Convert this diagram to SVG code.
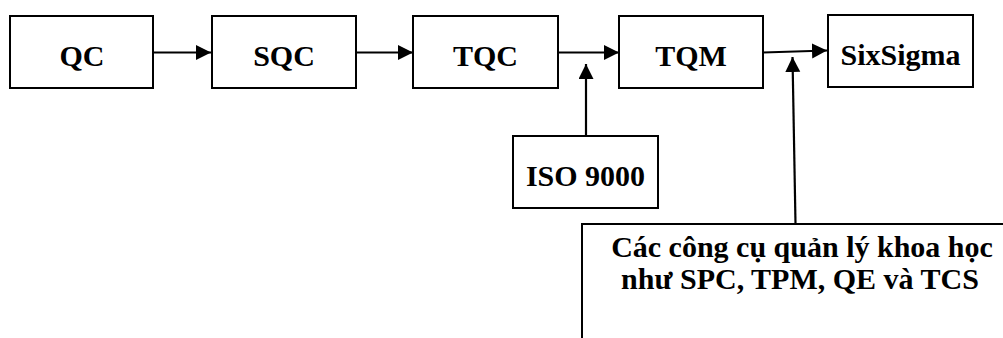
<svg xmlns="http://www.w3.org/2000/svg" width="1003" height="338" viewBox="0 0 1003 338">
  <defs>
    <marker id="head" markerUnits="userSpaceOnUse" markerWidth="16" markerHeight="16" refX="15" refY="7.5" orient="auto">
      <path d="M0,0 L15,7.5 L0,15 z" fill="#000"/>
    </marker>
  </defs>
  <rect width="1003" height="338" fill="#fff"/>

  <!-- arrows between the stages -->
  <g id="connectors" stroke="#000" stroke-width="2.2" fill="none" marker-end="url(#head)">
    <line x1="153" y1="52.5" x2="211" y2="52.5"/>
    <line x1="356" y1="52.5" x2="413" y2="52.5"/>
    <line x1="558" y1="52.5" x2="619" y2="52.5"/>
    <line x1="763" y1="52.5" x2="827" y2="50.5"/>
    <line x1="586" y1="136" x2="586" y2="64"/>
    <line x1="795.5" y1="224" x2="792.5" y2="57"/>
  </g>

  <!-- stage boxes -->
  <g id="nodes" fill="#fff" stroke="#000" stroke-width="2">
    <rect id="node-qc-box" x="10" y="16" width="143" height="72"/>
    <rect id="node-sqc-box" x="212" y="16" width="144" height="72"/>
    <rect id="node-tqc-box" x="413" y="16" width="145" height="72"/>
    <rect id="node-tqm-box" x="619" y="16" width="144" height="72"/>
    <rect id="node-sixsigma-box" x="828" y="15" width="145" height="72"/>
    <rect id="node-iso-box" x="513" y="136" width="145" height="72"/>
    <rect id="node-tools-box" x="582" y="224" width="500" height="200"/>
  </g>

  <g id="labels" font-family="Liberation Serif" font-weight="bold" font-size="30" text-anchor="middle" fill="#000">
    <text id="node-qc" x="82" y="66" style="font-family:'Liberation Serif',serif;font-weight:700">QC</text>
    <text id="node-sqc" x="284" y="66" style="font-family:'Liberation Serif',serif;font-weight:700">SQC</text>
    <text id="node-tqc" x="485.5" y="66" style="font-family:'Liberation Serif',serif;font-weight:700">TQC</text>
    <text id="node-tqm" x="691" y="66" style="font-family:'Liberation Serif',serif;font-weight:700">TQM</text>
    <text id="node-sixsigma" x="900.5" y="65" style="font-family:'Liberation Serif',serif;font-weight:700">SixSigma</text>
    <text id="node-iso" x="585.5" y="186" style="font-family:'Liberation Serif',serif;font-weight:700">ISO 9000</text>
    <g id="node-tools">
      <text x="802" y="257" style="font-family:'Liberation Serif',serif;font-weight:700">Các công cụ quản lý khoa học</text>
      <text x="800" y="289" style="font-family:'Liberation Serif',serif;font-weight:700">như SPC, TPM, QE và TCS</text>
    </g>
  </g>
</svg>
